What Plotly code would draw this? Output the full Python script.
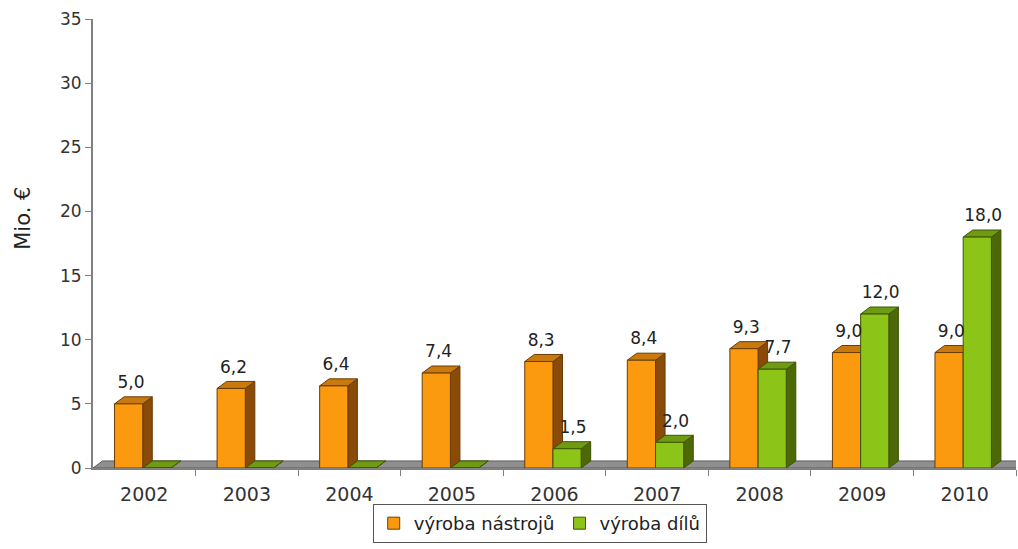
import plotly.graph_objects as go

# Annual output, million EUR
years = ["2002", "2003", "2004", "2005", "2006", "2007", "2008", "2009", "2010"]
tools = [5.0, 6.2, 6.4, 7.4, 8.3, 8.4, 9.3, 9.0, 9.0]
parts = [0.0, 0.0, 0.0, 0.0, 1.5, 2.0, 7.7, 12.0, 18.0]

series_names = ["výroba nástrojů", "výroba dílů"]

# Pseudo-3D geometry (x in category units, y in value units)
DX = 0.093
DY = 0.55
LABEL_GAP = 0.35
ORANGE_X = (-0.29, -0.015)
GREEN_X = (-0.015, 0.26)

ORANGE = dict(front="#FB9A0E", side="#8A4A08", top="#C97A0E", edge="#6A3C05")
GREEN = dict(front="#8CC418", side="#4D6806", top="#6E9B12", edge="#3D5405")

FONT = "DejaVu Sans, Verdana, sans-serif"


def fmt(v):
    return f"{v:.1f}".replace(".", ",")


def faces(values, xoff):
    fx, fy, sx, sy, tx, ty = [], [], [], [], [], []
    for i, v in enumerate(values):
        x0, x1 = i + xoff[0], i + xoff[1]
        fx += [x0, x1, x1, x0, x0, None]
        fy += [0, 0, v, v, 0, None]
        sx += [x1, x1 + DX, x1 + DX, x1, x1, None]
        sy += [0, DY, v + DY, v, 0, None]
        tx += [x0, x1, x1 + DX, x0 + DX, x0, None]
        ty += [v, v, v + DY, v + DY, v, None]
    return (fx, fy), (sx, sy), (tx, ty)


def poly(xy, fill, edge):
    return go.Scatter(
        x=xy[0], y=xy[1], mode="lines", fill="toself", fillcolor=fill,
        line=dict(color=edge, width=1), showlegend=False, hoverinfo="skip",
    )


fig = go.Figure()

# floor slab
n = len(years)
fig.add_trace(poly(([-0.5, n - 0.5, n - 0.5 + DX, -0.5 + DX, -0.5],
                    [0, 0, DY, DY, 0]), "#8f8f8f", "#5c5c5c"))

for values, xoff, col in ((tools, ORANGE_X, ORANGE), (parts, GREEN_X, GREEN)):
    front, side, top = faces(values, xoff)
    fig.add_trace(poly(side, col["side"], col["edge"]))
    fig.add_trace(poly(top, col["top"], col["edge"]))
    fig.add_trace(poly(front, col["front"], col["edge"]))

# value labels
fig.add_trace(go.Scatter(
    x=[i - 0.13 for i in range(n)], y=[v + DY + LABEL_GAP for v in tools],
    mode="text", text=[fmt(v) for v in tools], textposition="top center",
    textfont=dict(family=FONT, size=17, color="#222"),
    showlegend=False, hoverinfo="skip",
))
fig.add_trace(go.Scatter(
    x=[i + 0.18 for i in range(n)], y=[v + DY + LABEL_GAP for v in parts],
    mode="text", text=[fmt(v) if v > 0 else "" for v in parts],
    textposition="top center",
    textfont=dict(family=FONT, size=17, color="#222"),
    showlegend=False, hoverinfo="skip",
))

# legend entries
for name, col in zip(series_names, (ORANGE, GREEN)):
    fig.add_trace(go.Scatter(
        x=[None], y=[None], mode="markers", name=name,
        marker=dict(symbol="square", size=12, color=col["front"],
                    line=dict(color=col["edge"], width=1)),
    ))

fig.add_annotation(
    text="Mio. €", textangle=-90, xref="paper", yref="paper",
    x=-0.076, y=0.557, xanchor="center", yanchor="middle", showarrow=False,
    font=dict(family=FONT, size=21, color="#222"),
)

fig.update_layout(
    width=1018, height=549,
    margin=dict(l=93, r=2, t=19, b=81, autoexpand=False),
    plot_bgcolor="white", paper_bgcolor="white",
    font=dict(family=FONT, color="#333"),
    showlegend=True,
    legend=dict(
        orientation="h", x=0.484, xanchor="center", y=-0.167, yanchor="bottom",
        bordercolor="#555", borderwidth=1, bgcolor="white",
        font=dict(family=FONT, size=18, color="#222"),
        itemwidth=30, tracegroupgap=0,
    ),
    xaxis=dict(
        range=[-0.5, n - 0.5], tickmode="array",
        tickvals=list(range(n)), ticktext=years,
        ticks="outside", ticklen=8, tickcolor="rgba(0,0,0,0)",
        tickfont=dict(family=FONT, size=19, color="#333"),
        showline=True, linecolor="#808080", linewidth=2,
        showgrid=False, zeroline=False,
        minor=dict(tickvals=[i + 0.5 for i in range(n)], ticks="outside",
                   ticklen=6, tickcolor="#808080", tickwidth=1),
    ),
    yaxis=dict(
        range=[0, 35], tickmode="array", tickvals=list(range(0, 36, 5)),
        ticks="outside", ticklen=6, tickcolor="#808080",
        tickfont=dict(family=FONT, size=17, color="#333"),
        showline=True, linecolor="#808080", linewidth=2,
        showgrid=False, zeroline=False,
    ),
)

fig.write_html("out.html")
